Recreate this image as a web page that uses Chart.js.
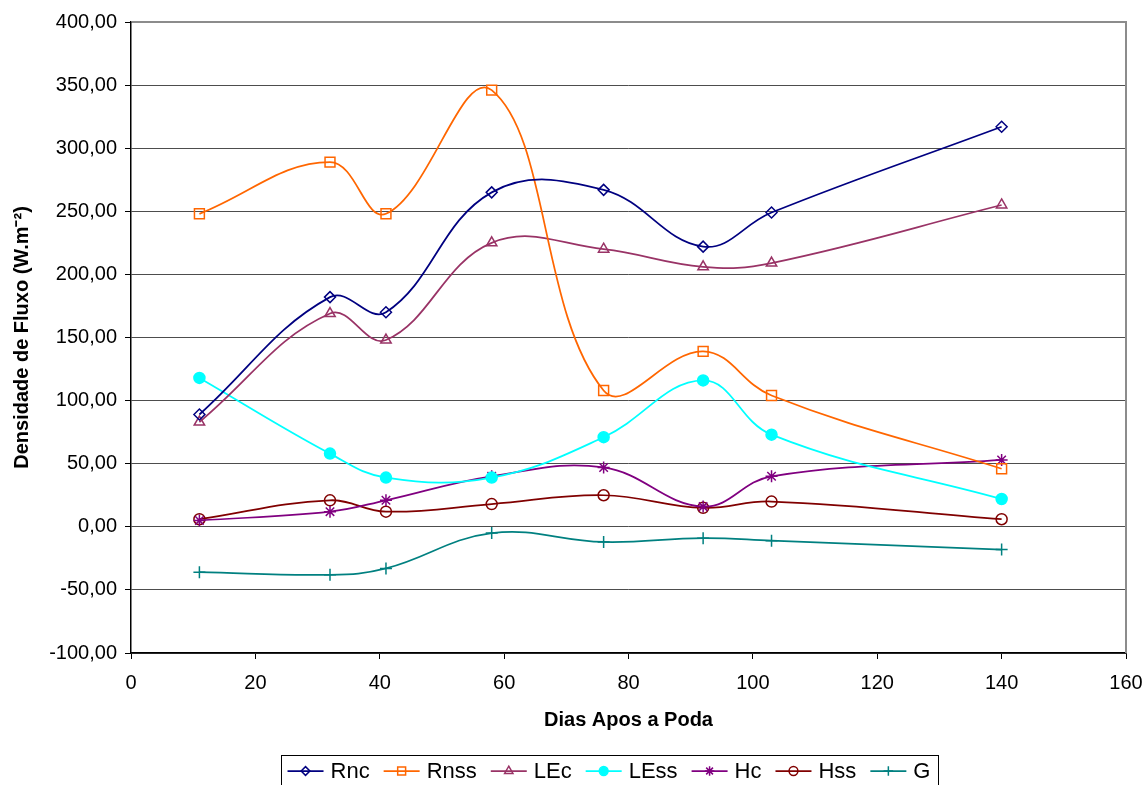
<!DOCTYPE html>
<html><head><meta charset="utf-8">
<script src="https://cdn.jsdelivr.net/npm/chart.js@4.4.0/dist/chart.umd.min.js"></script>
<style>html,body{margin:0;padding:0;background:#fff}#wrap{width:1146px;height:785px}</style>
</head><body><div id="wrap"><canvas id="c" width="1146" height="785"></canvas></div>
<script>
// ---- data ----
const days = [11, 32, 41, 58, 76, 92, 103, 140];
const Rnc  = [89, 182, 170, 265, 267, 222, 249, 317];
const Rnss = [248, 289, 248, 346, 108, 139, 104, 46];
const LEc  = [83, 169, 148, 225, 220, 206, 209, 255];
const LEss = [118, 58, 39, 39, 71, 116, 73, 22];
const Hc   = [5, 12, 21, 40, 47, 16, 40, 53];
const Hss  = [6, 21, 12, 18, 25, 15, 20, 6];
const G    = [-36, -38, -33, -5, -12, -9, -11, -18];
const seriesNames = ['Rnc', 'Rnss', 'LEc', 'LEss', 'Hc', 'Hss', 'G'];
const seriesValues = [Rnc, Rnss, LEc, LEss, Hc, Hss, G];
const xTickStep = 20, xMin = 0, xMax = 160;
const yTickStep = 50, yMin = -100, yMax = 400;
const xTitle = 'Dias Apos a Poda';
const yTitle = 'Densidade de Fluxo (W.m\u207B\u00B2)';

// ---- styles ----
const seriesStyles = [
  {color: '#000080', point: 'rectRot',  r: 5.5, fill: 'rgba(0,0,0,0)'},
  {color: '#FF6600', point: 'rect',     r: 7,   fill: 'rgba(0,0,0,0)'},
  {color: '#993366', point: 'triangle', r: 6,   fill: 'rgba(0,0,0,0)'},
  {color: '#00FFFF', point: 'circle',   r: 5.5, fill: '#00FFFF'},
  {color: '#800080', point: 'star',     r: 6,   fill: 'rgba(0,0,0,0)'},
  {color: '#800000', point: 'circle',   r: 5.5, fill: 'rgba(0,0,0,0)'},
  {color: '#008080', point: 'cross',    r: 6,   fill: 'rgba(0,0,0,0)'}
];
const FONT = '"Liberation Sans", Arial, sans-serif';

const datasets = seriesNames.map((name, i) => ({
  label: name,
  data: days.map((d, k) => ({x: d, y: seriesValues[i][k]})),
  borderColor: seriesStyles[i].color,
  backgroundColor: seriesStyles[i].fill,
  borderWidth: 1.75,
  tension: 0.4,
  pointStyle: seriesStyles[i].point,
  pointRadius: seriesStyles[i].r,
  pointBorderWidth: 1.5,
  pointBorderColor: seriesStyles[i].color,
  pointBackgroundColor: seriesStyles[i].fill,
  fill: false
}));

const framePlugin = {
  id: 'frameAndLegend',
  beforeDatasetsDraw(chart) {
    const {ctx, chartArea: a} = chart;
    ctx.save();
    ctx.strokeStyle = '#8c8c8c';
    ctx.lineWidth = 2;
    ctx.beginPath();
    ctx.moveTo(a.left + 1, a.top);
    ctx.lineTo(a.right, a.top);
    ctx.lineTo(a.right, a.bottom);
    ctx.stroke();
    ctx.restore();
  },
  afterDraw(chart) {
    const ctx = chart.ctx;
    ctx.save();
    ctx.font = '22px ' + FONT;
    const ds = chart.data.datasets;
    const lineLen = 36, gap = 7, spacing = 14;
    const widths = ds.map(d => ctx.measureText(d.label).width);
    const total = widths.reduce((s, w) => s + w, 0) + ds.length * (lineLen + gap) + (ds.length - 1) * spacing;
    const cx = 609, cy = 771;
    let x = cx - total / 2;
    ctx.strokeStyle = '#000';
    ctx.lineWidth = 1;
    ctx.strokeRect(Math.round(x - 7) + 0.5, 755.5, Math.round(total + 14), 40);
    ds.forEach((d, i) => {
      ctx.strokeStyle = d.borderColor;
      ctx.lineWidth = 1.75;
      ctx.beginPath();
      ctx.moveTo(x, cy);
      ctx.lineTo(x + lineLen, cy);
      ctx.stroke();
      ctx.fillStyle = d.pointBackgroundColor;
      ctx.lineWidth = 1.5;
      Chart.helpers.drawPoint(ctx, {pointStyle: d.pointStyle, radius: d.pointRadius * 0.8, rotation: 0, borderWidth: 1.5}, x + lineLen / 2, cy);
      ctx.fillStyle = '#000';
      ctx.textBaseline = 'middle';
      ctx.textAlign = 'left';
      ctx.fillText(d.label, x + lineLen + gap, cy + 1);
      x += lineLen + gap + widths[i] + spacing;
    });
    ctx.restore();
  }
};

new Chart(document.getElementById('c'), {
  type: 'line',
  data: {datasets},
  plugins: [framePlugin],
  options: {
    responsive: false,
    animation: false,
    devicePixelRatio: 1,
    layout: {padding: {top: 22, right: 20, left: 0, bottom: 0}},
    plugins: {legend: {display: false}, tooltip: {enabled: false}},
    scales: {
      x: {
        type: 'linear', min: xMin, max: xMax,
        ticks: {stepSize: xTickStep, color: '#000', font: {family: FONT, size: 20}, padding: 12, maxRotation: 0},
        grid: {drawOnChartArea: false, drawTicks: true, tickLength: 6, tickColor: '#000'},
        border: {color: '#000', width: 1.5},
        title: {display: true, text: xTitle, color: '#000', font: {family: FONT, size: 20, weight: 'bold'}, padding: {top: 0, bottom: 53}},
        afterFit: s => { s.height = 132; s.paddingRight = 0; s.paddingLeft = 0; }
      },
      y: {
        min: yMin, max: yMax,
        ticks: {stepSize: yTickStep, color: '#000', font: {family: FONT, size: 20}, padding: 8,
                callback: v => v.toFixed(2).replace('.', ',')},
        grid: {color: '#4d4d4d', lineWidth: 1, tickLength: 6, tickColor: '#000'},
        border: {color: '#000', width: 1.5},
        title: {display: true, text: yTitle, color: '#000', font: {family: FONT, size: 20, weight: 'bold'}, padding: {top: 10, bottom: 0}},
        afterFit: s => { s.width = 131; s.paddingTop = 0; s.paddingBottom = 0; }
      }
    }
  }
});
</script></body></html>
